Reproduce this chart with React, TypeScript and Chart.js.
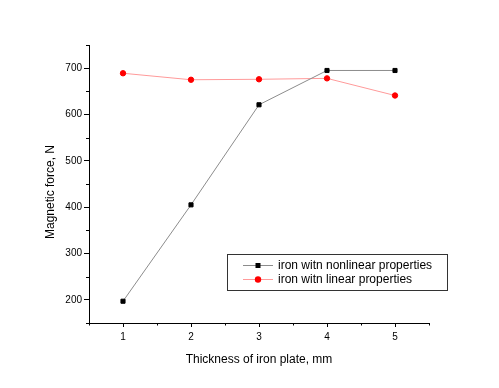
import React, { useEffect, useRef } from "react";
import { Chart, registerables } from "chart.js";

Chart.register(...registerables);

const thickness = [1, 2, 3, 4, 5];
const nonlinearForce = [197, 405, 621, 695, 695];
const linearForce = [689, 675, 676, 678, 641];
const xMajorTicks = [1, 2, 3, 4, 5];
const xMinorTicks = [0.5, 1.5, 2.5, 3.5, 4.5, 5.5];
const yMajorTicks = [200, 300, 400, 500, 600, 700];
const yMinorTicks = [150, 250, 350, 450, 550, 650, 750];
const seriesNames = ["iron witn nonlinear properties", "iron witn linear properties"];
const xTitle = "Thickness of iron plate, mm";
const yTitle = "Magnetic force, N";

const FONT = "'Liberation Sans', Arial, sans-serif";

const minorTicksPlugin = {
  id: "minorTicks",
  afterDraw(chart: any) {
    const ctx = chart.ctx;
    const xs = chart.scales.x;
    const ys = chart.scales.y;
    const area = chart.chartArea;
    ctx.save();
    ctx.strokeStyle = "#000";
    ctx.lineWidth = 1;
    ctx.beginPath();
    xMinorTicks.forEach((v) => {
      const px = Math.round(xs.getPixelForValue(v)) + 0.5;
      ctx.moveTo(px, area.bottom);
      ctx.lineTo(px, area.bottom + 2.5);
    });
    yMinorTicks.forEach((v) => {
      const py = Math.round(ys.getPixelForValue(v)) + 0.5;
      ctx.moveTo(area.left, py);
      ctx.lineTo(area.left - 3, py);
    });
    ctx.stroke();
    ctx.restore();
  },
};

const yTitlePlugin = {
  id: "yTitle",
  afterDraw(chart: any) {
    const ctx = chart.ctx;
    ctx.save();
    ctx.translate(51, 192);
    ctx.rotate(-Math.PI / 2);
    ctx.font = `12px ${FONT}`;
    ctx.fillStyle = "#000";
    ctx.textAlign = "center";
    ctx.textBaseline = "middle";
    ctx.fillText(yTitle, 0, 0);
    ctx.restore();
  },
};

const legendPlugin = {
  id: "boxLegend",
  afterDraw(chart: any) {
    const ctx = chart.ctx;
    ctx.save();
    const bx = 227.5, by = 254.5, bw = 220, bh = 36;
    ctx.strokeStyle = "#333";
    ctx.lineWidth = 1;
    ctx.strokeRect(bx, by, bw, bh);
    ctx.font = `12px ${FONT}`;
    ctx.textBaseline = "middle";
    ctx.textAlign = "left";
    const rows = [265.5, 279.5];
    chart.data.datasets.forEach((ds: any, i: number) => {
      const y = rows[i];
      ctx.strokeStyle = ds.borderColor;
      ctx.lineWidth = 1;
      ctx.beginPath();
      ctx.moveTo(243, y);
      ctx.lineTo(273, y);
      ctx.stroke();
      ctx.fillStyle = ds.pointBackgroundColor;
      if (ds.pointStyle === "rect") {
        ctx.fillRect(255.5, y - 2.5, 5, 5);
      } else {
        ctx.beginPath();
        ctx.arc(258, y, 3.2, 0, Math.PI * 2);
        ctx.fill();
      }
      ctx.fillStyle = "#000";
      ctx.fillText(seriesNames[i], 278, y);
    });
    ctx.restore();
  },
};

export default function App() {
  const ref = useRef<HTMLCanvasElement | null>(null);
  useEffect(() => {
    if (!ref.current) return;
    const chart = new Chart(ref.current, {
      type: "line",
      data: {
        datasets: [
          {
            label: seriesNames[0],
            data: thickness.map((x, i) => ({ x, y: nonlinearForce[i] })),
            borderColor: "#8c8c8c",
            borderWidth: 1,
            pointStyle: "rect",
            pointRadius: 2.9,
            pointBorderWidth: 1,
            pointBackgroundColor: "#000",
            pointBorderColor: "#000",
          } as any,
          {
            label: seriesNames[1],
            data: thickness.map((x, i) => ({ x, y: linearForce[i] })),
            borderColor: "#ff9a9a",
            borderWidth: 1,
            pointStyle: "circle",
            pointRadius: 2.7,
            pointBorderWidth: 1,
            pointBackgroundColor: "#ff0000",
            pointBorderColor: "#ff0000",
          } as any,
        ],
      },
      options: {
        animation: false,
        responsive: false,
        devicePixelRatio: 1,
        layout: { padding: { left: 0, top: 45, right: 70, bottom: 0 } },
        plugins: {
          legend: { display: false },
          tooltip: { enabled: false },
        },
        scales: {
          x: {
            type: "linear",
            min: 0.5,
            max: 5.5,
            afterBuildTicks: (s: any) => {
              s.ticks = xMajorTicks.map((v) => ({ value: v }));
            },
            afterFit: (s: any) => {
              s.height = 65;
            },
            grid: { display: true, drawOnChartArea: false, drawTicks: true, tickLength: 4, color: "#000" },
            border: { display: true, color: "#000", width: 1 },
            ticks: {
              color: "#000",
              font: { family: FONT, size: 10 },
              padding: 4,
              maxRotation: 0,
              autoSkip: false,
              callback: (v: any) => String(v),
            },
            title: {
              display: true,
              text: xTitle,
              color: "#000",
              font: { family: FONT, size: 12 },
              padding: { top: 0, bottom: 21 },
            },
          },
          y: {
            type: "linear",
            min: 150,
            max: 750,
            afterBuildTicks: (s: any) => {
              s.ticks = yMajorTicks.map((v) => ({ value: v }));
            },
            afterFit: (s: any) => {
              s.width = 89;
            },
            grid: { display: true, drawOnChartArea: false, drawTicks: true, tickLength: 5, color: "#000" },
            border: { display: true, color: "#000", width: 1 },
            ticks: {
              color: "#000",
              font: { family: FONT, size: 10 },
              padding: 2,
              autoSkip: false,
              callback: (v: any) => String(v),
            },
            title: { display: false },
          },
        },
      },
      plugins: [minorTicksPlugin, yTitlePlugin, legendPlugin],
    });
    return () => chart.destroy();
  }, []);
  return (
    <div style={{ position: "fixed", left: 0, top: 0, width: 499, height: 388, background: "#fff" }}>
      <canvas ref={ref} width={499} height={388} style={{ display: "block" }} />
    </div>
  );
}
